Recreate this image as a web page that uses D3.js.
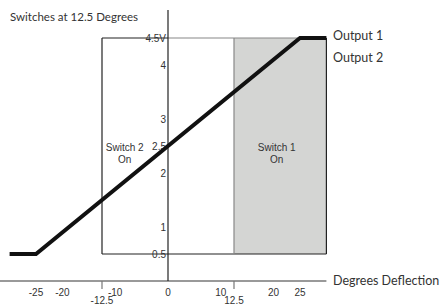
<!DOCTYPE html>
<html>
<head>
<meta charset="utf-8">
<script src="https://cdn.jsdelivr.net/npm/d3@7"></script>
<style>
  body { margin: 0; background: #fff; }
  text { fill: #333; }
  .tick-label { font-family: "Liberation Sans", Arial, sans-serif; font-size: 10px; }
  .title { font-family: "Lato", "Open Sans", sans-serif; }
</style>
</head>
<body>
<main></main>
<script>
// output voltage vs deflection, both outputs on the same curve
let outputLine = [[-30, 0.5], [-25, 0.5], [25, 4.5], [30, 4.5]];

let yTicks = [4.5, 4, 3, 2.5, 2, 1, 0.5];
let yTickLabels = ['4.5V', '4', '3', '2.5', '2', '1', '0.5'];
let xTicks = [-25, -20, -10, 0, 10, 20, 25];
let xSwitchTicks = [-12.5, 12.5];

let switchLevels = [0.5, 4.5];      // box bottom / top
let switchPoint = 12.5;

let width = 442;
let height = 304;

let svg = d3.select('main')
  .append('svg')
  .attr('width', width)
  .attr('height', height);

let x = d3.scaleLinear().domain([-30, 30]).range([9.6, 326.4]);
let y = d3.scaleLinear().domain([0, 4.5]).range([281, 38]);

// switch 1 region (grey)
svg.append('rect')
  .attr('x', x(switchPoint))
  .attr('y', y(switchLevels[1]))
  .attr('width', x(30) - x(switchPoint))
  .attr('height', y(switchLevels[0]) - y(switchLevels[1]))
  .style('fill', '#d4d5d3');

// box outlines
let boxLines = [
  [[-switchPoint, switchLevels[1]], [0, switchLevels[1]], '#222'],
  [[0, switchLevels[1]], [30, switchLevels[1]], '#888'],
  [[-switchPoint, switchLevels[0]], [30, switchLevels[0]], '#222'],
  [[-switchPoint, switchLevels[0]], [-switchPoint, switchLevels[1]], '#222'],
  [[switchPoint, switchLevels[0]], [switchPoint, switchLevels[1]], '#888'],
  [[30, switchLevels[0]], [30, switchLevels[1]], '#222']
];
svg.selectAll('.box-line')
  .data(boxLines)
  .enter().append('line')
  .attr('class', 'box-line')
  .attr('x1', d => x(d[0][0]))
  .attr('y1', d => y(d[0][1]))
  .attr('x2', d => x(d[1][0]))
  .attr('y2', d => y(d[1][1]))
  .style('stroke', d => d[2])
  .style('stroke-width', 1.2);

// x axis
svg.append('line')
  .attr('x1', 0).attr('x2', x(30))
  .attr('y1', y(0)).attr('y2', y(0))
  .style('stroke', '#999')
  .style('stroke-width', 2);

svg.selectAll('.switch-tick')
  .data(xSwitchTicks)
  .enter().append('line')
  .attr('x1', d => x(d)).attr('x2', d => x(d))
  .attr('y1', y(0)).attr('y2', y(0) + 8)
  .style('stroke', '#777')
  .style('stroke-width', 1.2);

svg.selectAll('.x-label')
  .data(xTicks)
  .enter().append('text')
  .attr('class', 'tick-label')
  .attr('x', d => x(d))
  .attr('y', 296)
  .attr('text-anchor', 'middle')
  .text(d => d);

svg.selectAll('.x-switch-label')
  .data(xSwitchTicks)
  .enter().append('text')
  .attr('class', 'tick-label')
  .attr('x', d => x(d))
  .attr('y', 304)
  .attr('text-anchor', 'middle')
  .text(d => d);

// y axis
svg.append('line')
  .attr('x1', x(0)).attr('x2', x(0))
  .attr('y1', 10).attr('y2', y(0))
  .style('stroke', '#222')
  .style('stroke-width', 1.2);

svg.selectAll('.y-label')
  .data(yTicks)
  .enter().append('text')
  .attr('class', 'tick-label')
  .attr('x', x(0) - 2)
  .attr('y', d => y(d))
  .attr('dy', '0.35em')
  .attr('text-anchor', 'end')
  .text((d, i) => yTickLabels[i]);

// output curve
let line = d3.line()
  .x(d => x(d[0]))
  .y(d => y(d[1]));

svg.append('path')
  .datum(outputLine)
  .attr('d', line)
  .style('fill', 'none')
  .style('stroke', '#111')
  .style('stroke-width', 4);

// region labels
let switchLabels = [
  { deg: -8.2, lines: ['Switch 2', 'On'] },
  { deg: 20.6, lines: ['Switch 1', 'On'] }
];
switchLabels.forEach(s => {
  s.lines.forEach((t, i) => {
    svg.append('text')
      .attr('class', 'tick-label')
      .attr('x', x(s.deg))
      .attr('y', 151 + i * 12)
      .attr('text-anchor', 'middle')
      .text(t);
  });
});

// titles
svg.append('text')
  .attr('class', 'title')
  .attr('x', 10).attr('y', 21)
  .style('font-size', '11.5px')
  .text('Switches at 12.5 Degrees');

svg.append('text')
  .attr('class', 'title')
  .attr('x', 333).attr('y', 40)
  .style('font-size', '12.5px')
  .text('Output 1');

svg.append('text')
  .attr('class', 'title')
  .attr('x', 333).attr('y', 62)
  .style('font-size', '12.5px')
  .text('Output 2');

svg.append('text')
  .attr('class', 'title')
  .attr('x', 333).attr('y', 285)
  .style('font-size', '12.5px')
  .text('Degrees Deflection');
</script>
</body>
</html>
